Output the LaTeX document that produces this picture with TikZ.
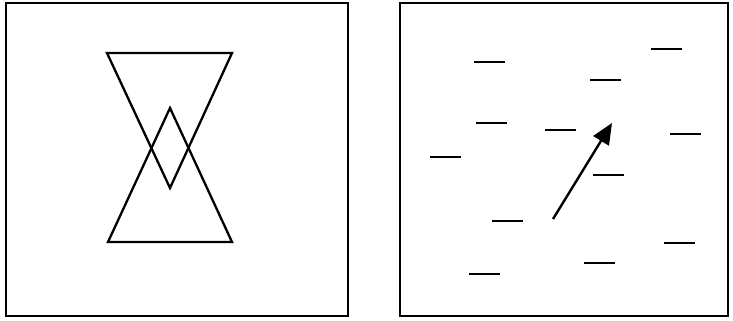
\documentclass[tikz,border=0pt]{standalone}
\usetikzlibrary{arrows.meta}
\begin{document}
\begin{tikzpicture}[x=1pt,y=-1pt,
  frame/.style={line width=2.2pt},
  trishape/.style={line width=2.3pt, line join=miter},
  dashmark/.style={line width=2.4pt},
  motion/.style={line width=2.4pt, -{Triangle[length=21pt,width=18pt]}}]
\useasboundingbox (0,0) rectangle (733,321);
% left panel
\draw[frame] (6,3) rectangle (348,316);
\draw[trishape] (107,53) -- (232,53) -- (170,188) -- cycle;
\draw[trishape] (108,242) -- (232,242) -- (170,108) -- cycle;
% right panel
\draw[frame] (400,3) rectangle (728,316);
\foreach \xa/\ya in {474/62, 651/49, 590/80, 476/123, 545/130, 670/134,
                     430/157, 593/175, 492/221, 664/243, 584/263, 469/274}
  \draw[dashmark] (\xa,\ya) -- ++(31,0);
\coordinate (s) at (553,219);
\coordinate (t) at (612,123);
\draw[motion] (s) -- (t);
\end{tikzpicture}
\end{document}
